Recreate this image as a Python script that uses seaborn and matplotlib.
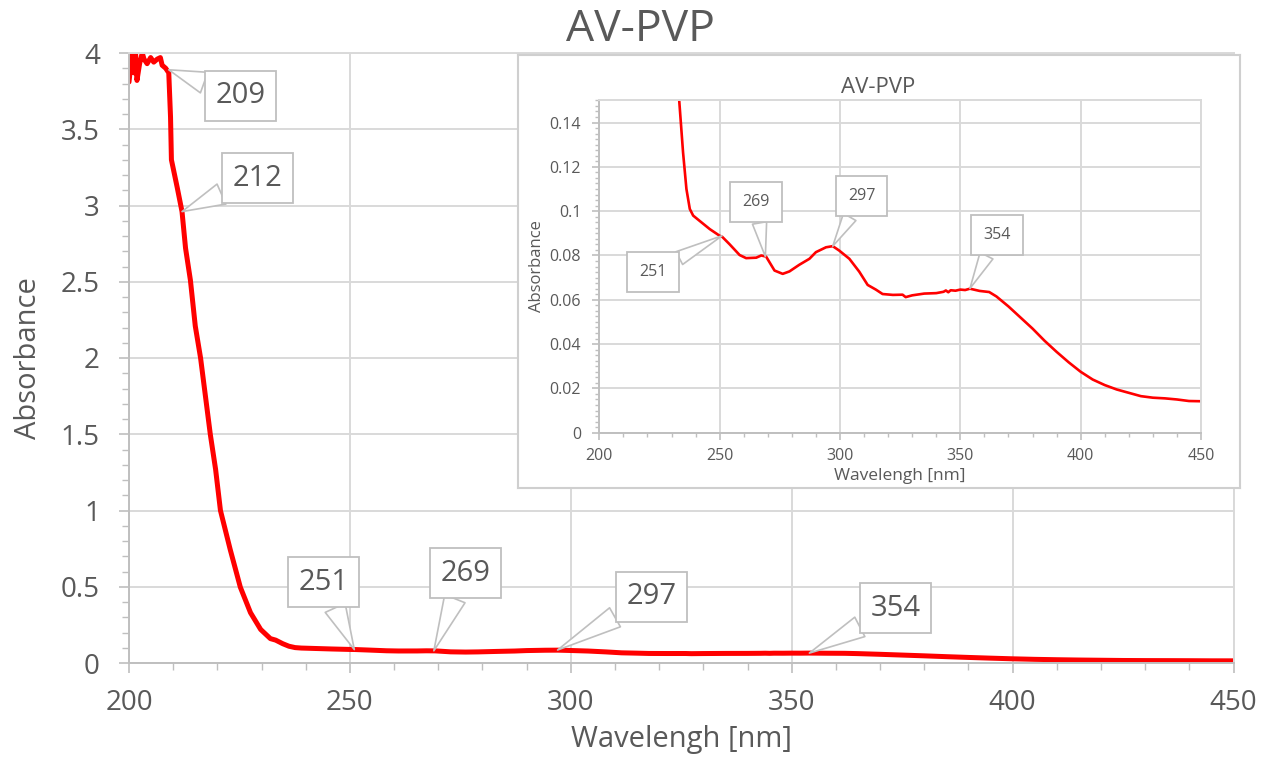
import numpy as np
import pandas as pd
import matplotlib
matplotlib.use("Agg")
import matplotlib.pyplot as plt
from matplotlib.ticker import MultipleLocator, FuncFormatter
import seaborn as sns

# ---------------- data ----------------
wavelength = [200.0, 200.7, 201.1, 201.5, 201.8, 202.4, 203.0, 203.4, 204.1, 204.9,
              205.6, 206.4, 207.1, 207.5, 208.3, 209.0, 209.4, 209.6, 210.9, 212.0,
              212.8, 213.9, 215.0, 216.2, 217.3, 218.4, 219.6, 220.7, 222.9, 225.2,
              227.5, 229.8, 232.0, 233.2, 234.8, 236.2, 237.6, 239.0, 241.7, 245.9,
              250.0, 251.0, 254.1, 258.3, 261.0, 265.2, 267.3, 269.3, 272.8, 276.2,
              279.0, 283.1, 287.3, 290.0, 294.2, 297.0, 299.7, 303.9, 308.0, 311.5,
              314.9, 317.7, 322.0, 326.0, 327.3, 330.0, 335.0, 340.0, 343.0, 344.0,
              345.0, 346.0, 348.0, 350.0, 352.0, 354.0, 358.0, 362.0, 365.0, 370.0,
              375.0, 380.0, 385.0, 390.0, 395.0, 400.0, 405.0, 410.0, 415.0, 420.0,
              425.0, 430.0, 435.0, 440.0, 445.0, 450.0]
absorbance = [3.81, 4.00, 3.87, 3.99, 3.82, 3.93, 4.00, 3.96, 3.93, 3.97,
              3.94, 3.96, 3.97, 3.92, 3.90, 3.87, 3.58, 3.30, 3.12, 2.96,
              2.72, 2.51, 2.21, 2.00, 1.75, 1.50, 1.27, 1.00, 0.745, 0.497,
              0.33, 0.22, 0.16, 0.150, 0.1265, 0.110, 0.101, 0.098, 0.0956, 0.0919,
              0.0889, 0.0885, 0.0851, 0.0802, 0.0788, 0.0790, 0.0800, 0.0795, 0.0732, 0.0717,
              0.0728, 0.0758, 0.0785, 0.0815, 0.0837, 0.0842, 0.0822, 0.0785, 0.0727, 0.0667,
              0.0646, 0.0626, 0.0622, 0.0623, 0.0612, 0.0620, 0.0628, 0.0630, 0.0636, 0.0642,
              0.0634, 0.0643, 0.0641, 0.0646, 0.0644, 0.0650, 0.0640, 0.0635, 0.0615, 0.0570,
              0.0520, 0.0470, 0.0415, 0.0365, 0.0318, 0.0275, 0.0240, 0.0215, 0.0195, 0.0180,
              0.0165, 0.0158, 0.0155, 0.0150, 0.0143, 0.0142]

main_peaks = [209, 212, 251, 269, 297, 354]
main_peak_abs = [3.89, 2.96, 0.088, 0.080, 0.085, 0.065]
inset_peaks = [251, 269, 297, 354]
inset_peak_abs = [0.0889, 0.0795, 0.0842, 0.0651]

x_ticks = [200, 250, 300, 350, 400, 450]
main_y_ticks = [0, 0.5, 1, 1.5, 2, 2.5, 3, 3.5, 4]
inset_y_ticks = [0, 0.02, 0.04, 0.06, 0.08, 0.10, 0.12, 0.14]

title = "AV-PVP"
xlabel = "Wavelengh [nm]"
ylabel = "Absorbance"

# ---------------- layout (callout box centres, in data units) ----------------
main_box_pos = [(225.2, 3.72), (229.1, 3.18), (244.0, 0.53), (276.1, 0.59),
                (318.2, 0.435), (373.6, 0.36)]
inset_box_pos = [(222.3, 0.0726), (265.1, 0.104), (309.0, 0.1067), (365.2, 0.0892)]

# ---------------- style ----------------
sns.set_theme(style="white")
plt.rcParams['font.family'] = ['Open Sans', 'DejaVu Sans']
TEXT = '#595959'
GRID = '#D9D9D9'
AXIS = '#BFBFBF'
RED = '#FF0000'
W, H = 1275, 762

df = pd.DataFrame({'Wavelength': wavelength, 'Absorbance': absorbance})
fmt = FuncFormatter(lambda v, p: f'{v:g}')

fig = plt.figure(figsize=(W / 100, H / 100), dpi=100)
fig.patch.set_facecolor('white')


def px_axes(x0, y0, x1, y1):
    return [x0 / W, 1 - y1 / H, (x1 - x0) / W, (y1 - y0) / H]


def callout(a, text, xy, xytext, fs, pad, tw):
    a.annotate(text, xy=xy, xytext=xytext, textcoords='data',
               ha='center', va='center', fontsize=fs, color=TEXT,
               bbox=dict(boxstyle=f'square,pad={pad}', fc='white', ec=AXIS, lw=1.3),
               arrowprops=dict(arrowstyle=f'wedge,tail_width={tw},shrink_factor=0.5',
                               fc='white', ec=AXIS, lw=1.2, shrinkA=0, shrinkB=0),
               zorder=6, annotation_clip=False)


def style_axes(a, fs_tick, maj_len, min_len, ypad, xpad):
    a.set_facecolor('white')
    a.grid(True, which='major', color=GRID, lw=1.4)
    a.set_axisbelow(True)
    a.tick_params(which='both', bottom=True, left=True, top=False, right=False,
                  direction='out', color=AXIS)
    a.tick_params(which='major', length=maj_len, width=1.2,
                  labelsize=fs_tick, labelcolor=TEXT)
    a.tick_params(which='minor', length=min_len, width=1.0)
    a.tick_params(axis='y', which='major', pad=ypad)
    a.tick_params(axis='x', which='major', pad=xpad)
    for s in ['left', 'bottom']:
        a.spines[s].set_color(AXIS)
        a.spines[s].set_linewidth(1.4)
    for s in ['top', 'right']:
        a.spines[s].set_color(GRID)
        a.spines[s].set_linewidth(1.4)


# ---------------- main chart ----------------
ax = fig.add_axes(px_axes(129, 53, 1233.5, 663))
sns.lineplot(data=df, x='Wavelength', y='Absorbance', ax=ax, color=RED,
             lw=3.6, estimator=None, legend=False)
ax.set_xlim(200, 450)
ax.set_ylim(0, 4)
ax.set_xticks(x_ticks)
ax.set_yticks(main_y_ticks)
ax.xaxis.set_minor_locator(MultipleLocator(10))
ax.yaxis.set_minor_locator(MultipleLocator(0.1))
ax.yaxis.set_major_formatter(fmt)
ax.xaxis.set_major_formatter(fmt)
style_axes(ax, 20, 7, 5, 14, 12)
ax.set_xlabel(xlabel, fontsize=21, color=TEXT)
ax.set_ylabel(ylabel, fontsize=21, color=TEXT)
ax.xaxis.set_label_coords(0.5, -0.126)
ax.yaxis.set_label_coords(-0.0914, 0.5)
ax.xaxis.label.set_va('center')
ax.yaxis.label.set_va('center')
fig.text(0.502, 1 - 30 / H, title, ha='center', va='center', fontsize=32, color=TEXT)

for lab, val, pos in zip(main_peaks, main_peak_abs, main_box_pos):
    callout(ax, str(lab), (lab, val), pos, 21, 0.36, 0.75)

# ---------------- inset ----------------
frame = fig.add_axes(px_axes(518, 55, 1240, 488))
frame.set_xticks([])
frame.set_yticks([])
frame.set_facecolor('white')
for s in frame.spines.values():
    s.set_color('#CFCFCF')
    s.set_linewidth(1.5)

ins = fig.add_axes(px_axes(599.3, 100.4, 1201, 432.7))
sns.lineplot(data=df, x='Wavelength', y='Absorbance', ax=ins, color=RED,
             lw=1.9, estimator=None, legend=False)
ins.set_xlim(200, 450)
ins.set_ylim(0, 0.15)
ins.set_xticks(x_ticks)
ins.set_yticks(inset_y_ticks)
ins.xaxis.set_minor_locator(MultipleLocator(10))
ins.yaxis.set_minor_locator(MultipleLocator(0.0025))
ins.yaxis.set_major_formatter(fmt)
ins.xaxis.set_major_formatter(fmt)
style_axes(ins, 11.5, 5, 3, 8, 6)
ins.set_xlabel(xlabel, fontsize=12.5, color=TEXT)
ins.set_ylabel(ylabel, fontsize=12, color=TEXT)
ins.xaxis.set_label_coords(0.5, -0.13)
ins.yaxis.set_label_coords(-0.103, 0.5)
ins.xaxis.label.set_va('center')
ins.yaxis.label.set_va('center')
ins.text(0.463, 1.04, title, transform=ins.transAxes, ha='center', va='center',
         fontsize=16, color=TEXT)

for lab, val, pos in zip(inset_peaks, inset_peak_abs, inset_box_pos):
    callout(ins, str(lab), (lab, val), pos, 11.5, 0.75, 0.9)

fig.savefig('out.png', dpi=100, facecolor='white')
